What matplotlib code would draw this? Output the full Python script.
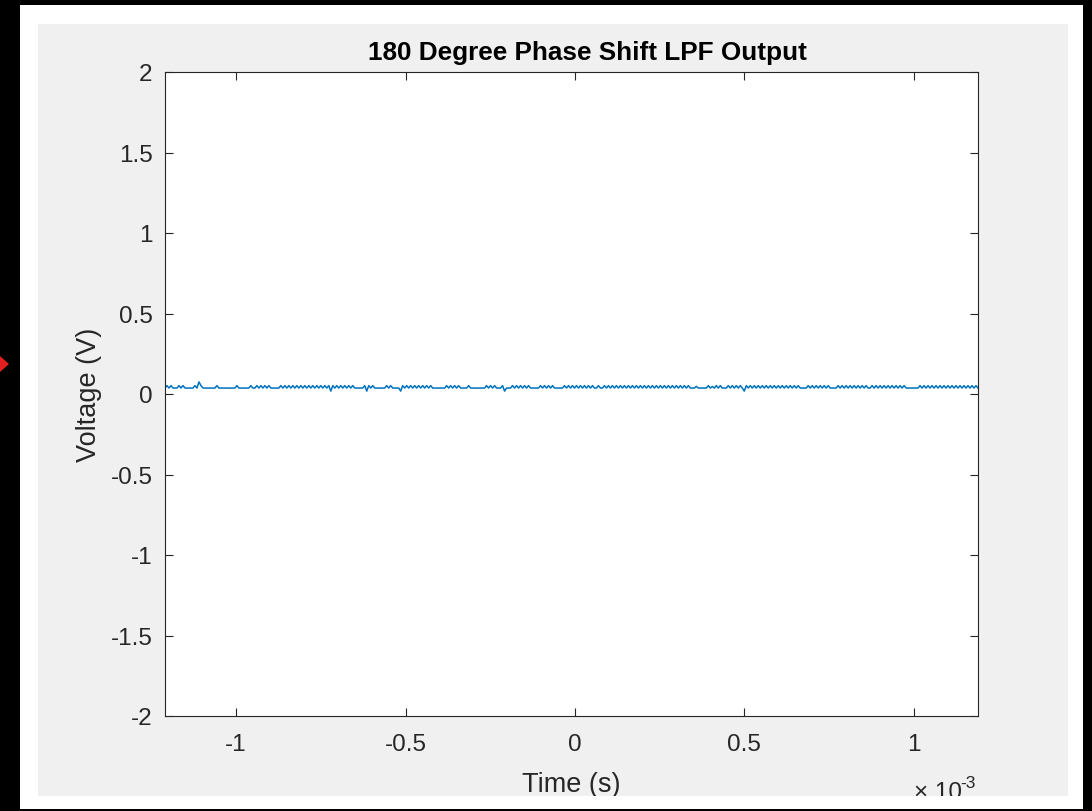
import numpy as np
import matplotlib
matplotlib.use('Agg')
import matplotlib.pyplot as plt
from matplotlib.patches import Rectangle, Polygon
from matplotlib.transforms import Bbox

W, H = 1092, 812

# time window of the scope capture (s)
t_start, t_end = -1.21e-3, 1.19e-3

# trace, one code per sample
levels = {'_': 0.037, '^': 0.052, 'n': 0.047, 'A': 0.075, 'v': 0.018}
trace = [
    "_^_^___^_^_____^_A^_______^_________^______^__^_^_^_^_____",
    "^_^_^_^_^_^_^_^_^_^_^_^_^v^_^_^_^_^_^_____^v^_^______^_^____v",
    "^_^_^_^_^_^_^_^_______^_^_^_^____^________^_^_^___^v___",
    "^_^_^_^_^_____^_^_^_^_____^_^_^_^_^_^_^_^__^__",
    "^_^_^_^_^_^_^_^_^_^_^_^_^_^_^_^_^_^_^_^_^_^___n_____^_n_^_^___^_^_^_^_v",
    "^_^_^_^_^_^_^_^_^_^_^_^_^_^____^_^_^_^_^_^____^_^_^_^_^_^_^_^__",
    "^_^_^_^_^_^_^_^_^_______^_^_^_^_^_^_^_^_^_^_^_^_^_^_^_",
]
codes = ''.join(trace)
voltage = np.array([levels[c] for c in codes])
time = np.linspace(t_start, t_end, len(voltage))

xticks = [-1e-3, -0.5e-3, 0, 0.5e-3, 1e-3]
xticklabels = ['-1', '-0.5', '0', '0.5', '1']
yticks = [-2, -1.5, -1, -0.5, 0, 0.5, 1, 1.5, 2]
yticklabels = ['-2', '-1.5', '-1', '-0.5', '0', '0.5', '1', '1.5', '2']

plt.rcParams['font.family'] = ['Liberation Sans', 'DejaVu Sans']
plt.rcParams['axes.unicode_minus'] = False

fig = plt.figure(figsize=(W / 100, H / 100), dpi=100, facecolor='black')


def fx(x):
    return x / W


def fy(y):
    return 1 - y / H


# window frame like the screenshot
fig.add_artist(Rectangle((fx(20), fy(810)), fx(1083) - fx(20), fy(6) - fy(810),
                         transform=fig.transFigure, facecolor='white',
                         edgecolor='none', zorder=-2))
fig.add_artist(Rectangle((fx(38), fy(797)), fx(1068) - fx(38), fy(25) - fy(797),
                         transform=fig.transFigure, facecolor='#f0f0f0',
                         edgecolor='none', zorder=-1))
fig.add_artist(Polygon([(fx(0), fy(357)), (fx(9), fy(365)), (fx(0), fy(373))],
                       closed=True, transform=fig.transFigure,
                       facecolor='#e02020', edgecolor='none', zorder=-1))

ax = fig.add_axes([fx(165), fy(717), fx(978) - fx(165), fy(73) - fy(717)])
ax.plot(time, voltage, color='#0072BD', lw=1.1)
ax.set_xlim(t_start, t_end)
ax.set_ylim(-2, 2)
ax.set_xticks(xticks, xticklabels)
ax.set_yticks(yticks, yticklabels)
ax.tick_params(direction='in', length=5.8, width=0.8, color='#262626',
               labelcolor='#262626', labelsize=17.5, top=True, right=True)
ax.tick_params(axis='x', pad=12)
ax.tick_params(axis='y', pad=9)
for s in ax.spines.values():
    s.set_color('#262626')
    s.set_linewidth(0.8)

clip = Bbox.from_extents(38, H - 797, 1068, H - 25)

fig.text(fx(587), fy(60), '180 Degree Phase Shift LPF Output', ha='center',
         va='baseline', fontsize=18.8, fontweight='bold', color='black')
fig.text(fx(89), fy(395), 'Voltage (V)', rotation=90, ha='center', va='center',
         fontsize=19.5, color='#262626')
t = fig.text(fx(571), fy(792), 'Time (s)', ha='center', va='baseline',
             fontsize=19.5, color='#262626')
t.set_clip_box(clip)
t = fig.text(fx(914), fy(799), '\u00d7 10', ha='left', va='baseline',
             fontsize=17.5, color='#262626')
t.set_clip_box(clip)
t = fig.text(fx(960), fy(788), '-3', ha='left', va='baseline',
             fontsize=12.5, color='#262626')
t.set_clip_box(clip)

fig.savefig('out.png', dpi=100, facecolor=fig.get_facecolor())
